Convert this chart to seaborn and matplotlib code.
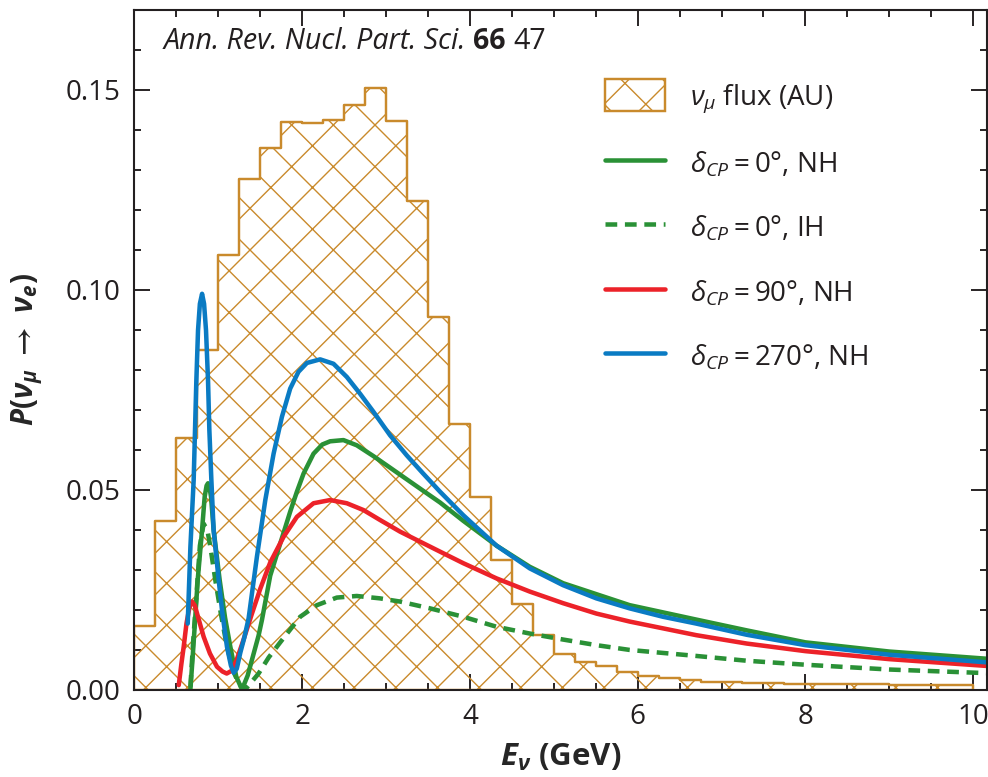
import numpy as np
import pandas as pd
import matplotlib
matplotlib.use("Agg")
import matplotlib.pyplot as plt
from matplotlib.ticker import MultipleLocator, FormatStrFormatter
from matplotlib.patches import Patch
from matplotlib.lines import Line2D
import seaborn as sns

# ---------------------------------------------------------------- data
# nu_mu flux (arbitrary units), 0.25 GeV bins from 0 to 10 GeV
bin_edges = np.arange(0.0, 10.0 + 1e-9, 0.25)
flux = [0.0160, 0.0421, 0.0629, 0.0850, 0.1087, 0.1278, 0.1354, 0.1420,
        0.1418, 0.1426, 0.1462, 0.1504, 0.1422, 0.1223, 0.0932, 0.0664,
        0.0482, 0.0324, 0.0213, 0.0136, 0.0089, 0.0068, 0.0059, 0.0043,
        0.0035, 0.0029, 0.0023, 0.0020, 0.0018, 0.0017, 0.0016, 0.0014,
        0.0014, 0.0013, 0.0013, 0.0013, 0.0012, 0.0012, 0.0012, 0.0012]

# P(nu_mu -> nu_e): delta_CP = 0, normal hierarchy
e_nh0 = [0.667, 0.700, 0.754, 0.806, 0.837, 0.860, 0.877, 0.895, 0.913, 0.944,
         1.016, 1.080, 1.143, 1.214, 1.282, 1.350, 1.480, 1.520, 1.619, 1.760,
         1.857, 1.937, 2.016, 2.135, 2.240, 2.333, 2.492, 2.651, 2.849, 3.048,
         3.246, 3.444, 3.643, 3.921, 4.317, 4.714, 5.111, 5.905, 6.698, 7.300,
         8.000, 9.000, 10.16]
p_nh0 = [0.0000, 0.0100, 0.0274, 0.0399, 0.0482, 0.0510, 0.0516, 0.0505, 0.0482, 0.0399,
         0.0274, 0.0180, 0.0107, 0.0032, 0.0000, 0.0035, 0.0135, 0.0174, 0.0285, 0.0380,
         0.0445, 0.0495, 0.0540, 0.0590, 0.0613, 0.0621, 0.0624, 0.0611, 0.0584, 0.0555,
         0.0526, 0.0497, 0.0468, 0.0422, 0.0360, 0.0307, 0.0266, 0.0211, 0.0175, 0.0148,
         0.0118, 0.0095, 0.0077]

# delta_CP = 0, inverted hierarchy
e_ih0 = [0.667, 0.700, 0.738, 0.780, 0.825, 0.870, 0.905, 0.964, 1.030, 1.103,
         1.180, 1.250, 1.320, 1.381, 1.480, 1.600, 1.738, 1.976, 2.175, 2.413,
         2.651, 2.929, 3.167, 3.524, 3.921, 4.317, 4.714, 5.111, 5.508, 5.905,
         6.698, 7.300, 8.000, 9.000, 10.16]
p_ih0 = [0.0007, 0.0120, 0.0232, 0.0360, 0.0415, 0.0398, 0.0357, 0.0274, 0.0190, 0.0107,
         0.0045, 0.0012, 0.0000, 0.0015, 0.0040, 0.0080, 0.0118, 0.0182, 0.0211, 0.0230,
         0.0234, 0.0228, 0.0220, 0.0203, 0.0182, 0.0157, 0.0140, 0.0125, 0.0111, 0.0099,
         0.0084, 0.0072, 0.0062, 0.0050, 0.0041]

# delta_CP = 90 deg, normal hierarchy
e_nh90 = [0.528, 0.560, 0.587, 0.620, 0.655, 0.687, 0.720, 0.760, 0.825, 0.900,
          0.984, 1.050, 1.100, 1.160, 1.220, 1.290, 1.401, 1.500, 1.619, 1.778,
          1.937, 2.135, 2.333, 2.532, 2.730, 2.929, 3.167, 3.405, 3.643, 3.921,
          4.317, 4.714, 5.111, 5.508, 5.905, 6.302, 6.698, 7.300, 8.000, 9.000,
          10.16]
p_nh90 = [0.0011, 0.0065, 0.0107, 0.0165, 0.0205, 0.0220, 0.0210, 0.0180, 0.0132, 0.0090,
          0.0057, 0.0045, 0.0040, 0.0047, 0.0075, 0.0118, 0.0190, 0.0252, 0.0318, 0.0382,
          0.0432, 0.0466, 0.0474, 0.0466, 0.0449, 0.0424, 0.0395, 0.0370, 0.0345, 0.0316,
          0.0278, 0.0245, 0.0216, 0.0190, 0.0170, 0.0153, 0.0136, 0.0115, 0.0096, 0.0076,
          0.0059]

# delta_CP = 270 deg, normal hierarchy
e_nh270 = [0.635, 0.667, 0.706, 0.738, 0.758, 0.780, 0.806, 0.830, 0.853, 0.877,
           0.893, 0.917, 0.944, 1.004, 1.048, 1.103, 1.150, 1.183, 1.220, 1.262,
           1.310, 1.361, 1.460, 1.560, 1.659, 1.758, 1.857, 1.956, 2.056, 2.214,
           2.373, 2.532, 2.690, 2.849, 3.048, 3.246, 3.444, 3.643, 3.921, 4.317,
           4.714, 5.111, 5.508, 5.905, 6.302, 6.698, 7.300, 8.000, 9.000, 10.16]
p_nh270 = [0.0165, 0.0357, 0.0524, 0.0774, 0.0899, 0.0965, 0.0990, 0.0965, 0.0899, 0.0774,
           0.0649, 0.0524, 0.0399, 0.0274, 0.0191, 0.0107, 0.0060, 0.0042, 0.0052, 0.0092,
           0.0130, 0.0178, 0.0332, 0.0474, 0.0590, 0.0682, 0.0753, 0.0795, 0.0817, 0.0826,
           0.0815, 0.0782, 0.0740, 0.0695, 0.0636, 0.0586, 0.0540, 0.0495, 0.0436, 0.0360,
           0.0303, 0.0261, 0.0228, 0.0203, 0.0182, 0.0165, 0.0137, 0.0111, 0.0087, 0.0068]

flux_label = r"$\nu_{\mu}$ flux (AU)"
curve_labels = [r"$\delta_{CP} = 0$°, NH", r"$\delta_{CP} = 0$°, IH",
                r"$\delta_{CP} = 90$°, NH", r"$\delta_{CP} = 270$°, NH"]
x_ticks = [0, 2, 4, 6, 8, 10]
y_ticks = [0.00, 0.05, 0.10, 0.15]

# ---------------------------------------------------------------- style
GOLD = "#c98a2c"
GREEN = "#2a9136"
RED = "#ec2229"
BLUE = "#0a7bc3"
INK = "#231f20"

sns.set_theme(style="ticks")
plt.rcParams["font.family"] = ["Open Sans", "DejaVu Sans"]
plt.rcParams.update({
    "mathtext.fontset": "custom",
    "mathtext.rm": "Open Sans",
    "mathtext.it": "Open Sans:italic",
    "mathtext.bf": "Open Sans:bold",
    "mathtext.bfit": "Open Sans:bold:italic",
    "mathtext.sf": "Open Sans",
    "mathtext.fallback": "stixsans",
    "hatch.linewidth": 0.8,
    "hatch.color": GOLD,
    "axes.linewidth": 1.2,
    "axes.edgecolor": INK,
    "text.color": INK,
    "xtick.color": INK,
    "ytick.color": INK,
})

DPI = 125
fig = plt.figure(figsize=(988 / DPI, 777 / DPI), dpi=DPI)
ax = fig.add_axes([0.1361, 0.1126, 0.9985 - 0.1361, 0.9871 - 0.1126])

# flux histogram, hatched
flux_df = pd.DataFrame({
    "energy": 0.5 * (bin_edges[:-1] + bin_edges[1:]),
    "flux": flux,
})
sns.histplot(data=flux_df, x="energy", weights="flux", binwidth=0.25,
             binrange=(0.0, 10.0), element="step", fill=True,
             color=GOLD, facecolor="none", edgecolor=GOLD, hatch="x",
             linewidth=1.4, ax=ax, zorder=1)

LW = 2.6
DASH = (0, (2.6, 1.7))
sns.lineplot(x=e_nh0, y=p_nh0, sort=False, estimator=None, color=GREEN, lw=LW,
             ax=ax, legend=False, zorder=3)
sns.lineplot(x=e_ih0, y=p_ih0, sort=False, estimator=None, color=GREEN, lw=LW,
             linestyle=DASH, ax=ax, legend=False, zorder=3)
sns.lineplot(x=e_nh90, y=p_nh90, sort=False, estimator=None, color=RED, lw=LW,
             ax=ax, legend=False, zorder=4)
sns.lineplot(x=e_nh270, y=p_nh270, sort=False, estimator=None, color=BLUE, lw=LW,
             ax=ax, legend=False, zorder=5)

# ---------------------------------------------------------------- axes
ax.set_xlim(0, 10.16)
ax.set_ylim(0, 0.17)
ax.set_xticks(x_ticks)
ax.set_yticks(y_ticks)
ax.xaxis.set_minor_locator(MultipleLocator(0.5))
ax.yaxis.set_minor_locator(MultipleLocator(0.01))
ax.yaxis.set_major_formatter(FormatStrFormatter("%.2f"))
ax.tick_params(which="both", direction="in", top=True, right=True,
               width=1.1, labelsize=16, pad=8)
ax.tick_params(which="major", length=9)
ax.tick_params(which="minor", length=4)
for s in ax.spines.values():
    s.set_zorder(6)

ax.set_xlabel(r"$\mathbfit{E}_{\mathbfit{\nu}}$ (GeV)", fontsize=18,
              fontweight="bold", labelpad=6)
ax.set_ylabel(r"$\mathbfit{P}\mathbf{(}\mathbfit{\nu}_{\mathbfit{\mu}}\ \mathbf{\rightarrow}\ \mathbfit{\nu}_{\mathbfit{e}}\mathbf{)}$",
              fontsize=17, labelpad=12)

# journal reference, set as italic / bold / regular runs
ref_a = ax.text(0.034, 0.9426, "Ann. Rev. Nucl. Part. Sci. ", style="italic",
                transform=ax.transAxes, fontsize=16.5, va="baseline", ha="left")
ref_b = ax.annotate("66 ", xy=(1, 0), xycoords=ref_a, fontsize=16.5,
                    fontweight="bold", va="bottom", ha="left")
ax.annotate("47", xy=(1, 0), xycoords=ref_b, fontsize=16.5,
            va="bottom", ha="left")

handles = [
    Patch(facecolor="none", edgecolor=GOLD, hatch="x", linewidth=1.4),
    Line2D([], [], color=GREEN, lw=LW),
    Line2D([], [], color=GREEN, lw=LW, linestyle=DASH),
    Line2D([], [], color=RED, lw=LW),
    Line2D([], [], color=BLUE, lw=LW),
]
ax.legend(handles, [flux_label] + curve_labels, loc="upper left",
          bbox_to_anchor=(0.5528, 0.898), frameon=False, fontsize=16,
          handlelength=2.16, handleheight=1.37, handletextpad=0.9,
          labelspacing=1.17, borderpad=0, borderaxespad=0)

fig.savefig("out.png", dpi=DPI)
